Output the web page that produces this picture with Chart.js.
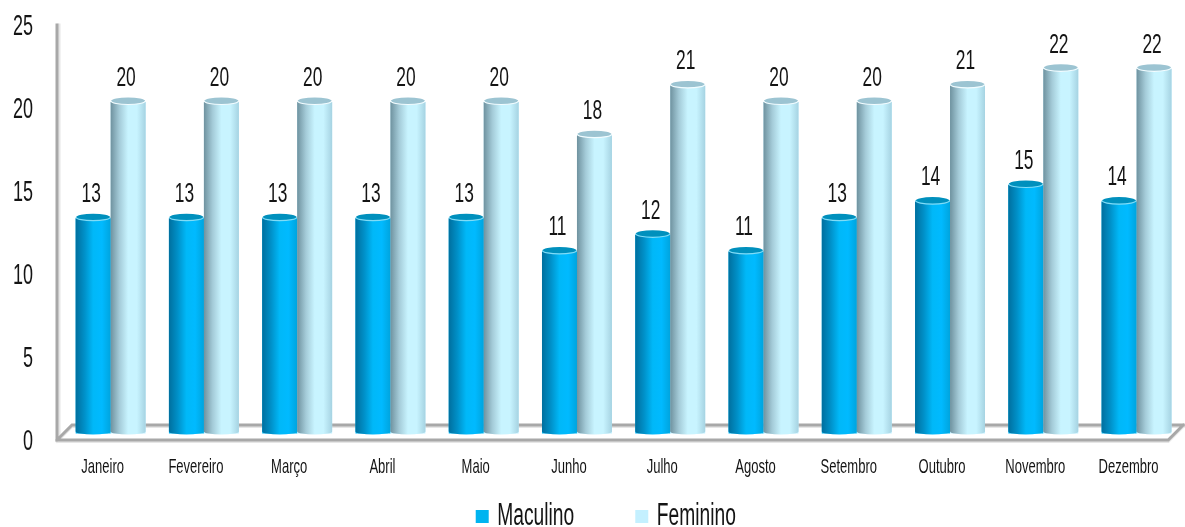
<!DOCTYPE html>
<html>
<head>
<meta charset="utf-8">
<script src="https://cdn.jsdelivr.net/npm/chart.js@4"></script>
<style>
  html, body { margin: 0; padding: 0; background: #fff; overflow: hidden; }
  canvas { display: block; }
</style>
</head>
<body>
<canvas id="myChart" width="1185" height="527"></canvas>
<script>
const meses = ['Janeiro', 'Fevereiro', 'Março', 'Abril', 'Maio', 'Junho', 'Julho', 'Agosto', 'Setembro', 'Outubro', 'Novembro', 'Dezembro'];
const masculino = [13, 13, 13, 13, 13, 11, 12, 11, 13, 14, 15, 14];
const feminino = [20, 20, 20, 20, 20, 18, 21, 20, 20, 21, 22, 22];

const FONT = '"Liberation Sans", sans-serif';
const NARROW = 0.62;
const TEXTO = '#141414';

var canvas = document.getElementById('myChart');
var ctx = canvas.getContext('2d');

// no condensed display font installed, so squeeze all the text sideways
const rawFillText = ctx.fillText.bind(ctx);
ctx.fillText = function (text, x, y) {
  // left aligned text is only the legend, its gap to the box is smaller
  if (ctx.textAlign === 'left') x -= 7;
  ctx.save();
  ctx.translate(x, y);
  ctx.scale(NARROW, 1);
  rawFillText(text, 0, 0);
  ctx.restore();
};

const cores = [
  { stops: ['#006f9e', '#0090c8', '#00b8f8', '#00baff', '#00a4de'], tampa: '#0090bd', aro: '#7fdcf7' },
  { stops: ['#6f929f', '#a4cbd8', '#c8f4ff', '#c8f4ff', '#a6d3e2'], tampa: '#9cc4d2', aro: '#f2fcff' }
];

function cilindro(c, bar, cor) {
  const half = bar.width / 2;
  const g = c.createLinearGradient(bar.x - half, 0, bar.x + half, 0);
  cor.stops.forEach((s, i) => g.addColorStop(i / (cor.stops.length - 1), s));
  c.fillStyle = g;
  c.beginPath();
  c.moveTo(bar.x - half, bar.y);
  c.lineTo(bar.x + half, bar.y);
  c.lineTo(bar.x + half, bar.base - 2);
  c.ellipse(bar.x, bar.base - 2, half, 3, 0, 0, Math.PI);
  c.closePath();
  c.fill();
  // top of the cylinder
  c.fillStyle = cor.tampa;
  c.strokeStyle = cor.aro;
  c.lineWidth = 1.2;
  c.beginPath();
  c.ellipse(bar.x, bar.y - 1, half - 0.5, 3.5, 0, 0, Math.PI * 2);
  c.fill();
  c.beginPath();
  c.ellipse(bar.x, bar.y - 1, half - 0.5, 3.5, 0, 0, Math.PI);
  c.stroke();
}

const pseudo3d = {
  id: 'pseudo3d',
  afterLayout(chart) {
    // legend sits off centre and runs past the bottom of the picture
    chart.legend.left += 41;
    chart.legend.right += 41;
    chart.legend.top += 15;
    chart.legend.bottom += 15;
  },
  beforeDatasetsDraw(chart) {
    const c = chart.ctx;
    const a = chart.chartArea;
    const floorY = a.bottom + 6;
    const backY = a.bottom - 9;
    const left = a.left - 7;
    c.save();
    c.lineCap = 'square';
    [['#e6e6e6', 1.5, 2], ['#a8a8a8', 0, 0]].forEach(([cor, dy, dx]) => {
      c.strokeStyle = cor;
      c.lineWidth = 3;
      c.beginPath();
      c.moveTo(left + dx, a.top + 6);
      c.lineTo(left + dx, floorY + dy);
      c.lineTo(a.right - 15, floorY + dy);
      c.lineTo(a.right, backY + dy);
      c.moveTo(left, floorY + dy);
      c.lineTo(left + 15, backY + dy);
      c.lineTo(a.right, backY + dy);
      c.stroke();
    });
    c.restore();
  },
  afterDatasetsDraw(chart) {
    const c = chart.ctx;
    chart.data.datasets.forEach((ds, d) => {
      chart.getDatasetMeta(d).data.forEach((bar, i) => {
        cilindro(c, bar, cores[d]);
        c.font = '28px ' + FONT;
        c.fillStyle = TEXTO;
        c.textAlign = 'center';
        c.textBaseline = 'middle';
        c.fillText(String(ds.data[i]), bar.x - 2, bar.y - 24);
      });
    });
  }
};

var myChart = new Chart(ctx, {
  type: 'bar',
  data: {
    labels: meses,
    datasets: [
      { label: 'Maculino', data: masculino, backgroundColor: '#00b4f0', borderWidth: 0 },
      { label: 'Feminino', data: feminino, backgroundColor: '#c4f0ff', borderWidth: 0 }
    ]
  },
  plugins: [pseudo3d],
  options: {
    responsive: false,
    animation: false,
    categoryPercentage: 0.75,
    barPercentage: 1,
    layout: { padding: { top: 19, left: 0, right: 0, bottom: 0 } },
    plugins: {
      title: { display: false },
      tooltip: { enabled: false },
      legend: {
        display: true,
        position: 'bottom',
        labels: {
          boxWidth: 13,
          boxHeight: 13,
          padding: 7,
          color: TEXTO,
          font: { family: FONT, size: 31 }
        }
      }
    },
    scales: {
      x: {
        afterFit(scale) { scale.height = 45; },
        // ticks.padding also pushes the plot area in, so the gap comes from invisible ticks
        grid: { drawOnChartArea: false, color: 'transparent', tickLength: 21 },
        border: { display: false },
        ticks: {
          autoSkip: false,
          minRotation: 0,
          maxRotation: 0,
          padding: 0,
          labelOffset: -8,
          color: TEXTO,
          font: { family: FONT, size: 21 }
        }
      },
      y: {
        min: 0,
        max: 25,
        afterFit(scale) { scale.width = 64; },
        grid: { drawOnChartArea: false, color: 'transparent', tickLength: 31 },
        border: { display: false },
        ticks: {
          stepSize: 5,
          padding: 0,
          labelOffset: 8,
          color: TEXTO,
          font: { family: FONT, size: 29 }
        }
      }
    }
  }
});
</script>
</body>
</html>
